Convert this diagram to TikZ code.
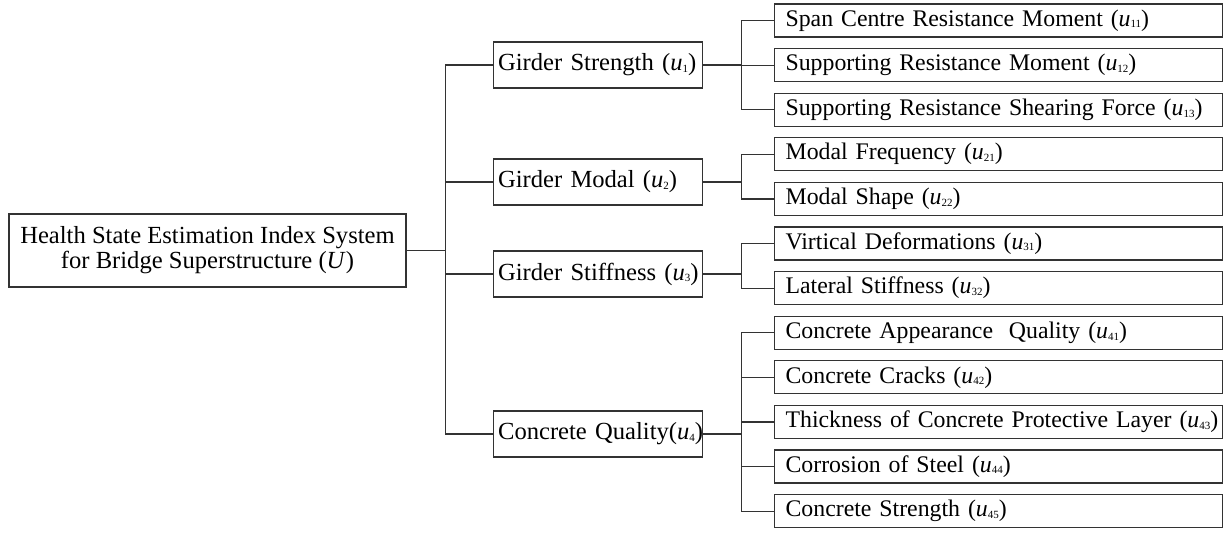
\documentclass[tikz,border=0pt]{standalone}
\usepackage{fontspec}
\setmainfont{Liberation Serif}
\usepackage{tikz}
\usetikzlibrary{positioning}
\definecolor{Ink}{HTML}{333333}
\newcommand{\ux}[1]{\textit{u}\raisebox{-0.15ex}{\fontsize{5.5pt}{5.5pt}\selectfont #1}}
\newcommand{\boxfont}{\fontsize{12.3pt}{12.5pt}\selectfont}
\newcommand{\leaffont}{\fontsize{11.9pt}{12.5pt}\selectfont}
\tikzset{
  rootbox/.style={draw=Ink,line width=0.6pt,align=center,minimum width=198.5pt,
              minimum height=36.5pt,inner sep=0pt,font=\boxfont},
  critbox/.style={draw=Ink,line width=0.6pt,align=left,text width=100pt,
              inner xsep=2.25pt,inner ysep=0pt,minimum height=23pt,font=\boxfont},
  leafbox/.style={draw=Ink,line width=0.6pt,align=left,text width=213pt,
              inner xsep=5.5pt,inner ysep=0pt,minimum height=16.5pt,font=\leaffont},
  link/.style={draw=Ink,line width=0.6pt}
}
\begin{document}
\begin{tikzpicture}[x=0.5pt,y=-0.5pt,node distance=5.2pt]
  \useasboundingbox (0,0) rectangle (1226,542);
  \node[rootbox] (root) at (207.5,250.5) {Health State Estimation Index System\\for Bridge Superstructure (\textit{U})};
  \node[critbox,anchor=west] (strength) at (493,65) {Girder Strength (\ux{1})};
  \node[critbox,anchor=west] (modal) at (493,182) {Girder Modal (\ux{2})};
  \node[critbox,anchor=west] (stiff) at (493,274) {\mbox{Girder Stiffness (\ux{3})}};
  \node[critbox,anchor=west] (quality) at (493,434) {\mbox{Concrete Quality(\ux{4})}};
  % indices
  \node[leafbox,anchor=west] (u11) at (774,20.5) {Span Centre Resistance Moment (\ux{11})};
  \node[leafbox,below=of u11] (u12) {Supporting Resistance Moment (\ux{12})};
  \node[leafbox,below=of u12] (u13) {\mbox{Supporting Resistance Shearing Force (\ux{13})}};
  \node[leafbox,below=of u13] (u21) {Modal Frequency (\ux{21})};
  \node[leafbox,below=of u21] (u22) {Modal Shape (\ux{22})};
  \node[leafbox,below=of u22] (u31) {Virtical Deformations (\ux{31})};
  \node[leafbox,below=of u31] (u32) {Lateral Stiffness (\ux{32})};
  \node[leafbox,below=of u32] (u41) {Concrete Appearance\ \ Quality (\ux{41})};
  \node[leafbox,below=of u41] (u42) {Concrete Cracks (\ux{42})};
  \node[leafbox,below=of u42] (u43) {\mbox{Thickness of Concrete Protective Layer (\ux{43})}};
  \node[leafbox,below=of u43] (u44) {Corrosion of Steel (\ux{44})};
  \node[leafbox,below=of u44] (u45) {Concrete Strength (\ux{45})};
  % first level
  \coordinate[right=19.5pt of root.east] (hub);
  \draw[link] (root.east) -- (hub);
  \draw[link] (strength.west) -| (hub);
  \draw[link] (modal.west) -| (hub);
  \draw[link] (stiff.west) -| (hub);
  \draw[link] (quality.west) -| (hub);
  % second level
  \coordinate[right=19pt of strength.east] (bus1);
  \coordinate[right=19pt of modal.east] (bus2);
  \coordinate[right=19pt of stiff.east] (bus3);
  \coordinate[right=19pt of quality.east] (bus4);
  \draw[link] (strength.east) -- (bus1);
  \draw[link] (modal.east) -- (bus2);
  \draw[link] (stiff.east) -- (bus3);
  \draw[link] (quality.east) -- (bus4);
  \draw[link] (u11.west) -| (bus1);
  \draw[link] (u12.west) -| (bus1);
  \draw[link] (u13.west) -| (bus1);
  \draw[link] (u21.west) -| (bus2);
  \draw[link] (u22.west) -| (bus2);
  \draw[link] (u31.west) -| (bus3);
  \draw[link] (u32.west) -| (bus3);
  \draw[link] (u41.west) -| (bus4);
  \draw[link] (u42.west) -| (bus4);
  \draw[link] (u43.west) -| (bus4);
  \draw[link] (u44.west) -| (bus4);
  \draw[link] (u45.west) -| (bus4);
\end{tikzpicture}
\end{document}
